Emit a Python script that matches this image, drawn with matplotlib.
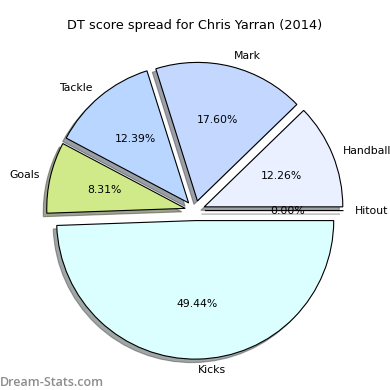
import matplotlib
matplotlib.use("Agg")
import matplotlib.pyplot as plt

labels = ["Hitout", "Handball", "Mark", "Tackle", "Goals", "Kicks"]
values = [0.00, 12.26, 17.60, 12.39, 8.31, 49.44]
colors = ["#e8eeff", "#eaf0ff", "#c4d8ff", "#b8d6ff", "#d0ea8a", "#dbffff"]
explode = [0.08] * 6

fig = plt.figure(figsize=(3.9, 3.9), dpi=100)
ax = fig.add_axes([0.1, 0.03, 0.8, 0.86])
wedges, texts, autotexts = ax.pie(values, labels=labels, colors=colors, explode=explode,
                                  autopct="%1.2f%%", shadow=True, startangle=0, radius=1.11,
                                  labeldistance=1.08,
                                  wedgeprops={"edgecolor": "black", "linewidth": 0.8},
                                  textprops={"fontsize": 7.8})
ax.set_aspect("equal")
fig.suptitle("DT score spread for Chris Yarran (2014)", fontsize=9.3, y=0.95)
# watermark
fig.text(0.0, 0.01, "Dream-Stats.com", fontsize=9, color="#8c8c8c",
         family="Open Sans", fontweight="semibold")

fig.savefig("out.png", dpi=100)
